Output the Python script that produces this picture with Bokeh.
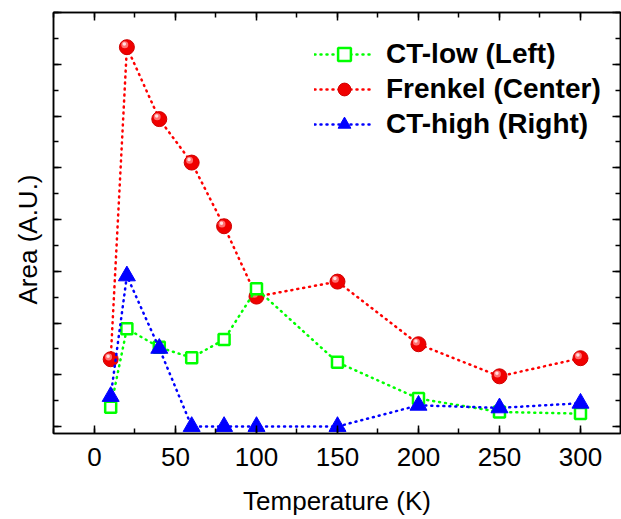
from bokeh.plotting import figure
from bokeh.models import (LinearAxis, SingleIntervalTicker, Legend, LegendItem,
                          Title, ColumnDataSource, Range1d, CustomJSTickFormatter)
from bokeh.transform import dodge
from bokeh.embed import file_html
from bokeh.resources import INLINE

# ---- data ----
temperature = [10, 20, 40, 60, 80, 100, 150, 200, 250, 300]
ct_low = [0.37, 1.89, 1.53, 1.33, 1.68, 2.66, 1.24, 0.54, 0.28, 0.25]
frenkel = [1.30, 7.33, 5.94, 5.10, 3.87, 2.51, 2.80, 1.59, 0.97, 1.32]
ct_high = [0.58, 2.91, 1.51, 0.0, 0.0, 0.0, 0.0, 0.41, 0.36, 0.45]
series_names = ["CT-low (Left)", "Frenkel (Center)", "CT-high (Right)"]
x_label = "Temperature (K)"
y_label = "Area (A.U.)"

FONT = "Liberation Sans"
src = ColumnDataSource(dict(t=temperature, low=ct_low, fr=frenkel, high=ct_high))

p = figure(width=621, height=519, output_backend="svg", toolbar_location=None,
           x_range=Range1d(-25.3, 324.7), y_range=Range1d(-0.135, 8.0),
           min_border_left=53, min_border_right=1, min_border_top=12,
           min_border_bottom=86, background_fill_color="white",
           border_fill_color="white")
p.grid.visible = False
p.outline_line_color = "black"
p.outline_line_width = 1.5

xt = SingleIntervalTicker(interval=50, num_minor_ticks=2)
yt = SingleIntervalTicker(interval=1, num_minor_ticks=2)
blank = CustomJSTickFormatter(code="return ''")


def style_axis(ax, labels):
    ax.axis_line_color = "black"
    ax.axis_line_width = 1.5
    ax.major_tick_line_color = "black"
    ax.minor_tick_line_color = "black"
    ax.major_tick_line_width = 1.5
    ax.minor_tick_line_width = 1.5
    ax.major_tick_in = 8
    ax.major_tick_out = 0
    ax.minor_tick_in = 5
    ax.minor_tick_out = 0
    if labels:
        ax.major_label_text_font = FONT
        ax.major_label_text_font_size = "26px"
        ax.major_label_text_color = "black"
        ax.major_label_standoff = 14
    else:
        ax.formatter = blank
        ax.major_label_standoff = 0


p.xaxis.ticker = xt
p.yaxis.ticker = yt
style_axis(p.xaxis[0], True)
style_axis(p.yaxis[0], False)
p.xaxis.axis_label = x_label
p.xaxis.axis_label_text_font = FONT
p.xaxis.axis_label_text_font_size = "26px"
p.xaxis.axis_label_text_font_style = "normal"
p.xaxis.axis_label_text_color = "black"
p.xaxis.axis_label_standoff = 17

top = LinearAxis(ticker=xt)
style_axis(top, False)
p.add_layout(top, "above")
right = LinearAxis(ticker=yt)
style_axis(right, False)
p.add_layout(right, "right")

ttl = Title(text=y_label, align="left", offset=129, vertical_align="top",
            text_font=FONT, text_font_size="26px", text_font_style="normal",
            standoff=18, text_color="black")
p.add_layout(ttl, "left")

dash = dict(line_dash="1 5", line_cap="round", line_width=2.5)

# Frenkel (red spheres)
r_line = p.line("t", "fr", source=src, line_color="#ff0000", **dash)
r_m = p.scatter("t", "fr", source=src, marker="circle", size=15,
                fill_color="#f00000", line_color="#d00000", line_width=1)
r_h1 = p.scatter(dodge("t", -1.3, range=p.x_range), dodge("fr", 0.045, range=p.y_range),
                 source=src, marker="circle", size=7, fill_color="#ff7070",
                 line_color=None)
r_h2 = p.scatter(dodge("t", -1.6, range=p.x_range), dodge("fr", 0.06, range=p.y_range),
                 source=src, marker="circle", size=3.5, fill_color="#ffe0e0",
                 line_color=None)

# CT-low (green open squares)
g_line = p.line("t", "low", source=src, line_color="#00ff00", **dash)
g_m = p.scatter("t", "low", source=src, marker="square", size=11,
                fill_color="white", line_color="#00ff00", line_width=2.5)

# CT-high (blue triangles)
b_line = p.line("t", "high", source=src, line_color="#0000ff", **dash)
b_m = p.scatter("t", "high", source=src, marker="triangle", size=17,
                fill_color="#0000ff", line_color="#0000ff", line_width=1)

legend = Legend(items=[
    LegendItem(label=series_names[0], renderers=[g_line, g_m]),
    LegendItem(label=series_names[1], renderers=[r_line, r_m]),
    LegendItem(label=series_names[2], renderers=[b_line, b_m]),
], location=(261, 293))
legend.padding = 0
legend.margin = 0
legend.spacing = 3
legend.glyph_width = 60
legend.glyph_height = 32
legend.label_height = 32
legend.label_standoff = 12
legend.label_text_font = FONT
legend.label_text_font_size = "28px"
legend.label_text_font_style = "bold"
legend.label_text_color = "black"
legend.border_line_color = None
legend.background_fill_alpha = 0
p.add_layout(legend, "center")

open("out.html", "w").write(file_html(p, INLINE))
